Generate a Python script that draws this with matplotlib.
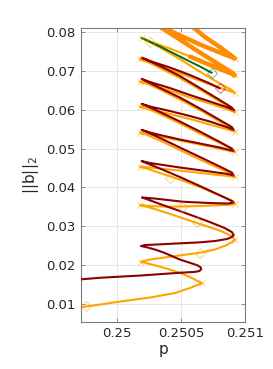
import matplotlib
matplotlib.use("Agg")
import matplotlib.pyplot as plt

# ---- data ----
red_p = [0.249697, 0.249868, 0.250179, 0.250490, 0.250607, 0.250642, 0.250657, 0.250650, 0.250622, 0.250490,
         0.250373, 0.250309, 0.250241, 0.250187, 0.250218, 0.250335, 0.250490, 0.250646, 0.250762, 0.250856,
         0.250895, 0.250910, 0.250895, 0.250840, 0.250724, 0.250646, 0.250490, 0.250335, 0.250241, 0.250195,
         0.250296, 0.250513, 0.250724, 0.250864, 0.250910, 0.250895, 0.250840, 0.250646, 0.250490, 0.250335,
         0.250218, 0.250192, 0.250257, 0.250490, 0.250724, 0.250864, 0.250910, 0.250895, 0.250801, 0.250646,
         0.250490, 0.250335, 0.250226, 0.250192, 0.250257, 0.250335, 0.250490, 0.250646, 0.250801, 0.250879,
         0.250910, 0.250895, 0.250801, 0.250646, 0.250490, 0.250335, 0.250226, 0.250192, 0.250257, 0.250412,
         0.250568, 0.250724, 0.250864, 0.250910, 0.250895, 0.250801, 0.250646, 0.250490, 0.250335, 0.250226,
         0.250192, 0.250257, 0.250412, 0.250568, 0.250724, 0.250864, 0.250914, 0.250895, 0.250801, 0.250646,
         0.250490, 0.250335, 0.250226, 0.250192, 0.250257, 0.250412, 0.250568, 0.250724, 0.250801]
red_b = [0.01624, 0.01670, 0.01727, 0.01799, 0.01822, 0.01843, 0.01895, 0.01946, 0.01998, 0.02140,
         0.02308, 0.02385, 0.02449, 0.02488, 0.02514, 0.02532, 0.02558, 0.02584, 0.02617, 0.02669,
         0.02720, 0.02772, 0.02849, 0.02952, 0.03107, 0.03203, 0.03391, 0.03571, 0.03687, 0.03739,
         0.03713, 0.03631, 0.03597, 0.03584, 0.03610, 0.03649, 0.03739, 0.04036, 0.04268, 0.04487,
         0.04642, 0.04680, 0.04629, 0.04513, 0.04410, 0.04345, 0.04306, 0.04384, 0.04539, 0.04784,
         0.05029, 0.05274, 0.05441, 0.05480, 0.05416, 0.05351, 0.05235, 0.05132, 0.05029, 0.04964,
         0.04938, 0.05003, 0.05171, 0.05441, 0.05699, 0.05944, 0.06112, 0.06151, 0.06086, 0.05970,
         0.05841, 0.05699, 0.05545, 0.05480, 0.05557, 0.05738, 0.06035, 0.06318, 0.06563, 0.06744,
         0.06795, 0.06718, 0.06563, 0.06383, 0.06215, 0.06060, 0.05983, 0.06060, 0.06254, 0.06563,
         0.06873, 0.07131, 0.07298, 0.07345, 0.07260, 0.07092, 0.06899, 0.06679, 0.06556]

orange_p = [0.249697, 0.249868, 0.250023, 0.250257, 0.250451, 0.250568, 0.250646, 0.250661, 0.250630, 0.250568,
            0.250490, 0.250373, 0.250257, 0.250187, 0.250257, 0.250412, 0.250646, 0.250762, 0.250856, 0.250902,
            0.250918, 0.250895, 0.250801, 0.250646, 0.250451, 0.250296, 0.250210, 0.250179, 0.250257, 0.250389,
            0.250646, 0.250840, 0.250902, 0.250918, 0.250902, 0.250801, 0.250646, 0.250490, 0.250335, 0.250226,
            0.250179, 0.250257, 0.250490, 0.250724, 0.250864, 0.250918, 0.250895, 0.250801, 0.250646, 0.250490,
            0.250335, 0.250226, 0.250179, 0.250257, 0.250412, 0.250568, 0.250724, 0.250864, 0.250918, 0.250895,
            0.250801, 0.250646, 0.250490, 0.250335, 0.250226, 0.250179, 0.250257, 0.250412, 0.250568, 0.250724,
            0.250864, 0.250918, 0.250895, 0.250801, 0.250646, 0.250490, 0.250335, 0.250226, 0.250179, 0.250257,
            0.250412, 0.250568, 0.250724, 0.250864, 0.250918, 0.250895, 0.250801, 0.250646, 0.250490, 0.250335,
            0.250226, 0.250179, 0.250257, 0.250412, 0.250568, 0.250724, 0.250840, 0.250902, 0.250918, 0.250895,
            0.250801, 0.250646, 0.250490, 0.250335, 0.250226, 0.250192, 0.250257, 0.250412, 0.250568]
orange_b = [0.00902, 0.00979, 0.01057, 0.01160, 0.01276, 0.01405, 0.01508, 0.01534, 0.01585, 0.01689,
            0.01799, 0.01921, 0.02024, 0.02083, 0.02140, 0.02212, 0.02315, 0.02398, 0.02514, 0.02604,
            0.02656, 0.02746, 0.02888, 0.03056, 0.03275, 0.03442, 0.03520, 0.03546, 0.03520, 0.03502,
            0.03520, 0.03546, 0.03558, 0.03584, 0.03649, 0.03791, 0.04010, 0.04203, 0.04371, 0.04492,
            0.04534, 0.04513, 0.04435, 0.04345, 0.04294, 0.04268, 0.04345, 0.04487, 0.04719, 0.04964,
            0.05209, 0.05364, 0.05410, 0.05364, 0.05261, 0.05158, 0.05054, 0.04951, 0.04913, 0.04990,
            0.05145, 0.05390, 0.05648, 0.05893, 0.06047, 0.06081, 0.06022, 0.05893, 0.05764, 0.05622,
            0.05493, 0.05441, 0.05519, 0.05699, 0.05996, 0.06267, 0.06525, 0.06692, 0.06726, 0.06654,
            0.06499, 0.06318, 0.06164, 0.06009, 0.05944, 0.06022, 0.06215, 0.06525, 0.06821, 0.07079,
            0.07260, 0.07304, 0.07221, 0.07041, 0.06847, 0.06654, 0.06525, 0.06460, 0.06434, 0.06512,
            0.06679, 0.06984, 0.07311, 0.07608, 0.07801, 0.07853, 0.07763, 0.07582, 0.07376]

thick_p = [0.250568, 0.250659, 0.250840, 0.250902, 0.250918, 0.250895, 0.250801, 0.250646,
           0.250490, 0.250335, 0.250272, 0.250348, 0.250646, 0.250840, 0.250902, 0.250918, 0.250895, 0.250801,
           0.250685, 0.250591, 0.250552]
thick_b = [0.07376, 0.07247, 0.07002, 0.06924, 0.06886, 0.06963, 0.07157, 0.07479,
           0.07814, 0.08137, 0.08266, 0.08137, 0.07685, 0.07427, 0.07350, 0.07324, 0.07389, 0.07621,
           0.07879, 0.08137, 0.08240]

green_p = [0.250192, 0.250335, 0.250490, 0.250646, 0.250737]
green_b = [0.07853, 0.07634, 0.07376, 0.07118, 0.06958]

fold_p = [0.250187, 0.250179, 0.250179, 0.250179, 0.250179, 0.250179, 0.250179, 0.250192,
          0.250661, 0.250918, 0.250918, 0.250918, 0.250918, 0.250918, 0.250918, 0.250918, 0.250918, 0.250918]
fold_b = [0.02083, 0.03546, 0.04534, 0.05410, 0.06081, 0.06726, 0.07304, 0.07853,
          0.01534, 0.02656, 0.03584, 0.04268, 0.04913, 0.05441, 0.05944, 0.06434, 0.06886, 0.07324]

bif_p = [0.249759, 0.250503, 0.250620, 0.250646, 0.250412, 0.250257]
bif_b = [0.00940, 0.03502, 0.03115, 0.02315, 0.04234, 0.07758]

green_end_p = [0.250737]
green_end_b = [0.06958]
red_end_p = [0.250801]
red_end_b = [0.06556]

xticks = [0.25, 0.2505, 0.251]
xticklabels = ["0.25", "0.2505", "0.251"]
yticks = [0.01, 0.02, 0.03, 0.04, 0.05, 0.06, 0.07, 0.08]
yticklabels = ["0.01", "0.02", "0.03", "0.04", "0.05", "0.06", "0.07", "0.08"]

# ---- plotting ----
fig = plt.figure(figsize=(2.73, 3.69), dpi=100)
ax = fig.add_axes([0.298, 0.128, 0.6005, 0.797])

ax.plot(orange_p, orange_b, color="#FFA500", lw=1.5, zorder=2, solid_capstyle="round", solid_joinstyle="round")
ax.plot(thick_p, thick_b, color="#FF8C00", lw=3.2, zorder=2.5, solid_capstyle="round", solid_joinstyle="round")
ax.plot(red_p, red_b, color="#8B0000", lw=1.5, zorder=3, solid_capstyle="round", solid_joinstyle="round")
ax.plot(green_p, green_b, color="#007000", lw=1.4, zorder=4)

ax.plot(fold_p, fold_b, ls="none", marker="x", ms=5, mew=0.7, color="#FFA500", alpha=0.5, zorder=5)
ax.plot(bif_p, bif_b, ls="none", marker="D", ms=5.5, mew=0.7, mfc="none", mec="#FFA500", alpha=0.5, zorder=5)
ax.plot(green_end_p, green_end_b, ls="none", marker="D", ms=5.5, mew=0.7, mfc="none", mec="#007000", alpha=0.5, zorder=5)
ax.plot(red_end_p, red_end_b, ls="none", marker="D", ms=5.5, mew=0.7, mfc="none", mec="#8B0000", alpha=0.5, zorder=5)

ax.set_xlim(0.249722, 0.251)
ax.set_ylim(0.005355, 0.08119)
ax.set_xticks(xticks)
ax.set_xticklabels(xticklabels)
ax.set_yticks(yticks)
ax.set_yticklabels(yticklabels)

ax.grid(True, color="#e3e3e3", lw=0.6, zorder=0)
ax.set_axisbelow(True)
for s in ax.spines.values():
    s.set_color("#7a7a7a")
    s.set_linewidth(0.8)
ax.tick_params(direction="in", length=3, width=0.6, color="#7a7a7a", top=True, right=True,
               labelsize=9.5, labelcolor="#262626", pad=4)

ax.set_xlabel("p", fontsize=11, color="#262626", labelpad=1)
ax.set_ylabel("||b||$_2$", fontsize=11, color="#262626", labelpad=4)

fig.savefig("out.png", dpi=100)
